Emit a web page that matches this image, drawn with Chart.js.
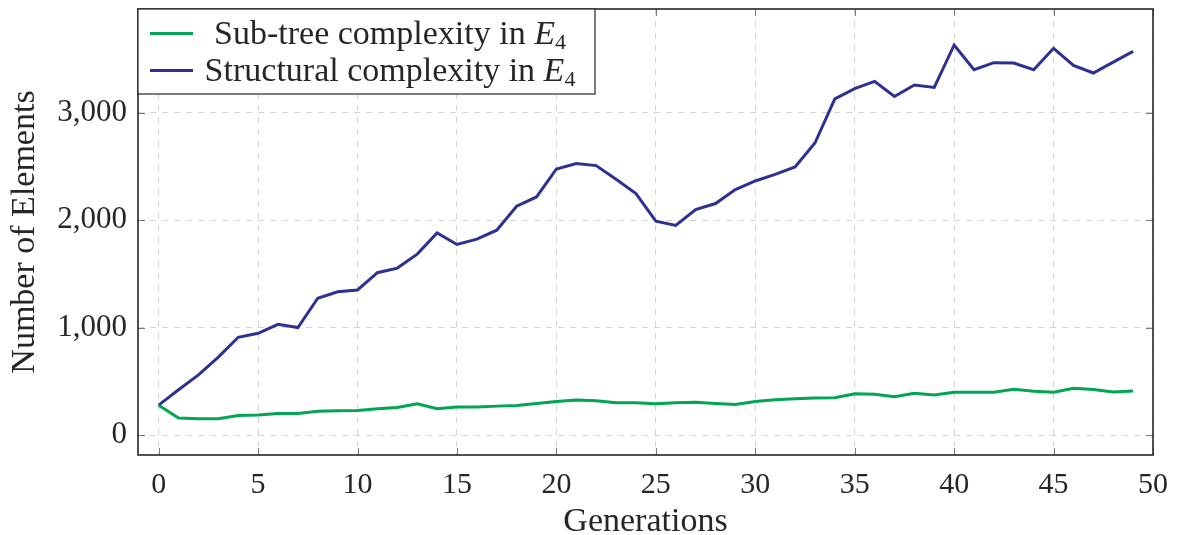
<!DOCTYPE html>
<html>
<head>
<meta charset="utf-8">
<script src="https://cdn.jsdelivr.net/npm/chart.js@4/dist/chart.umd.min.js"></script>
<style>
  html, body { margin: 0; padding: 0; background: #ffffff; }
  #chart { display: block; }
</style>
</head>
<body>
<canvas id="chart" width="1178" height="535"></canvas>
<script>
// Generations on the x axis
const generations = [0, 1, 2, 3, 4, 5, 6, 7, 8, 9, 10, 11, 12, 13, 14, 15, 16, 17, 18, 19,
  20, 21, 22, 23, 24, 25, 26, 27, 28, 29, 30, 31, 32, 33, 34, 35, 36, 37, 38, 39,
  40, 41, 42, 43, 44, 45, 46, 47, 48, 49];

// Number of elements per generation
const subTreeComplexity = [278, 158, 151, 151, 182, 186, 201, 201, 222, 226,
  229, 244, 257, 291, 244, 260, 260, 269, 275, 294,
  312, 325, 319, 300, 300, 290, 300, 306, 294, 284,
  312, 328, 338, 344, 347, 385, 379, 357, 388, 372,
  398, 398, 398, 426, 407, 398, 436, 423, 401, 410];

const structuralComplexity = [278, 421, 560, 725, 910, 947, 1031, 1000, 1273, 1334,
  1350, 1511, 1554, 1684, 1882, 1774, 1824, 1907, 2130, 2216,
  2477, 2527, 2508, 2381, 2248, 1991, 1951, 2099, 2155, 2285,
  2365, 2427, 2495, 2718, 3130, 3224, 3292, 3152, 3258, 3236,
  3631, 3401, 3466, 3463, 3401, 3600, 3441, 3370, 3472, 3571];

// Tick positions
const xTickValues = [0, 5, 10, 15, 20, 25, 30, 35, 40, 45, 50];
const yTickValues = [0, 1000, 2000, 3000];

const seriesLabels = ['Sub-tree complexity in E4', 'Structural complexity in E4'];
const seriesColors = ['#00a651', '#2e3192'];

const SERIF = "'Liberation Serif', 'DejaVu Serif', serif";
const TEXT_COLOR = '#262626';

function points(values) {
  return generations.map((g, i) => ({ x: g, y: values[i] }));
}

// Frame plus inward tick marks on all four sides
const framePlugin = {
  id: 'frame',
  afterDatasetsDraw(chart) {
    const { ctx, chartArea: a, scales } = chart;
    ctx.save();
    const len = 7;
    ctx.strokeStyle = '#7a7a7a';
    ctx.lineWidth = 1;
    ctx.beginPath();
    xTickValues.forEach(v => {
      const px = Math.round(scales.x.getPixelForValue(v)) + 0.5;
      ctx.moveTo(px, a.bottom); ctx.lineTo(px, a.bottom - len);
      ctx.moveTo(px, a.top); ctx.lineTo(px, a.top + len);
    });
    yTickValues.forEach(v => {
      const py = Math.round(scales.y.getPixelForValue(v)) + 0.5;
      ctx.moveTo(a.left, py); ctx.lineTo(a.left + len, py);
      ctx.moveTo(a.right, py); ctx.lineTo(a.right - len, py);
    });
    ctx.stroke();
    ctx.strokeStyle = '#262626';
    ctx.lineWidth = 1.6;
    ctx.strokeRect(a.left, a.top, a.right - a.left, a.bottom - a.top);
    ctx.restore();
  }
};

// Legend box with an italic E and a subscript 4
const legendPlugin = {
  id: 'texLegend',
  afterDraw(chart) {
    const { ctx, chartArea: a } = chart;
    const boxX = a.left, boxY = a.top, boxW = 457, boxH = 85;
    ctx.save();
    ctx.fillStyle = '#ffffff';
    ctx.fillRect(boxX, boxY, boxW, boxH);
    ctx.strokeStyle = '#262626';
    ctx.lineWidth = 1.2;
    ctx.strokeRect(boxX, boxY, boxW, boxH);

    const rowY = [boxY + 24.5, boxY + 61.5];
    const mainFont = '34px ' + SERIF;
    const italFont = 'italic 34px ' + SERIF;
    const subFont = '22px ' + SERIF;
    const centerX = boxX + 252;
    chart.data.datasets.forEach((ds, i) => {
      const y = rowY[i];
      ctx.strokeStyle = ds.borderColor;
      ctx.lineWidth = 3;
      ctx.beginPath();
      ctx.moveTo(boxX + 12, y);
      ctx.lineTo(boxX + 55, y);
      ctx.stroke();

      const label = ds.label;
      const base = label.slice(0, -2);
      const letter = label.slice(-2, -1);
      const sub = label.slice(-1);
      ctx.font = mainFont; const w1 = ctx.measureText(base).width;
      ctx.font = italFont; const w2 = ctx.measureText(letter).width;
      ctx.font = subFont; const w3 = ctx.measureText(sub).width;
      let x = centerX - (w1 + w2 + w3) / 2;
      const baseline = y + 10;
      ctx.fillStyle = TEXT_COLOR;
      ctx.textBaseline = 'alphabetic';
      ctx.textAlign = 'left';
      ctx.font = mainFont; ctx.fillText(base, x, baseline); x += w1;
      ctx.font = italFont; ctx.fillText(letter, x, baseline); x += w2;
      ctx.font = subFont; ctx.fillText(sub, x, baseline + 5);
    });
    ctx.restore();
  }
};

new Chart(document.getElementById('chart'), {
  type: 'line',
  data: {
    datasets: [
      {
        label: seriesLabels[0],
        data: points(subTreeComplexity),
        borderColor: seriesColors[0],
        backgroundColor: seriesColors[0],
        borderWidth: 3,
        pointRadius: 0,
        tension: 0,
        fill: false
      },
      {
        label: seriesLabels[1],
        data: points(structuralComplexity),
        borderColor: seriesColors[1],
        backgroundColor: seriesColors[1],
        borderWidth: 3,
        pointRadius: 0,
        tension: 0,
        fill: false
      }
    ]
  },
  options: {
    responsive: false,
    animation: false,
    layout: { padding: { left: 0, top: 9, right: 25, bottom: 0 } },
    plugins: {
      legend: { display: false },
      tooltip: { enabled: false }
    },
    scales: {
      x: {
        type: 'linear',
        min: -1.04,
        max: 50,
        afterBuildTicks(scale) { scale.ticks = xTickValues.map(v => ({ value: v })); },
        afterFit(scale) { scale.height = 80; scale.paddingLeft = 0; scale.paddingRight = 0; },
        grid: { color: '#d4d4d4', lineWidth: 1, drawTicks: false },
        border: { display: false, dash: [6, 6] },
        ticks: {
          padding: 15,
          maxRotation: 0,
          autoSkip: false,
          color: TEXT_COLOR,
          font: { family: SERIF, size: 30, lineHeight: 1.0 },
          callback: v => String(v)
        },
        title: {
          display: true,
          text: 'Generations',
          color: TEXT_COLOR,
          font: { family: SERIF, size: 34, lineHeight: 0.9 },
          padding: { top: 0, bottom: -2 }
        }
      },
      y: {
        type: 'linear',
        min: -186,
        max: 3966,
        afterBuildTicks(scale) { scale.ticks = yTickValues.map(v => ({ value: v })); },
        afterFit(scale) { scale.width = 138; scale.paddingTop = 0; scale.paddingBottom = 0; },
        grid: { color: '#d4d4d4', lineWidth: 1, drawTicks: false },
        border: { display: false, dash: [6, 6] },
        ticks: {
          padding: 11,
          color: TEXT_COLOR,
          font: { family: SERIF, size: 31 },
          callback: v => v.toLocaleString('en-US')
        },
        title: {
          display: true,
          text: 'Number of Elements',
          color: TEXT_COLOR,
          font: { family: SERIF, size: 34, lineHeight: 0.9 },
          padding: { top: 10, bottom: 0 }
        }
      }
    }
  },
  plugins: [framePlugin, legendPlugin]
});
</script>
</body>
</html>
